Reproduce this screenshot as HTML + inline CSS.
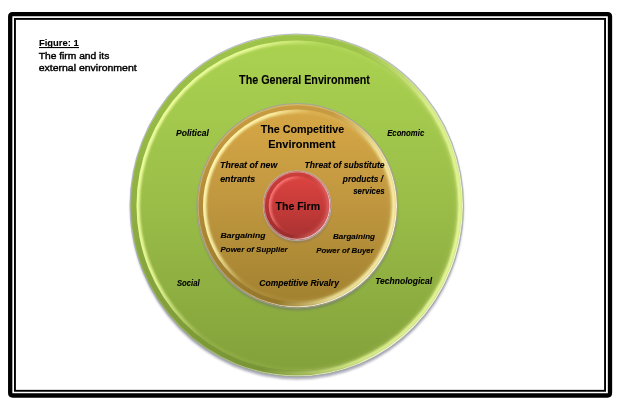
<!DOCTYPE html>
<html><head><meta charset="utf-8"><style>
html,body{margin:0;padding:0;background:#fff;width:623px;height:404px;overflow:hidden}
svg{display:block;will-change:transform}
text{font-family:"Liberation Sans",sans-serif;fill:#000;stroke:#000;stroke-width:0.1px}
text.r{stroke-width:0.4px}
</style></head><body>
<svg width="623" height="404" viewBox="0 0 623 404">
<defs><filter id="blur1" x="-10%" y="-10%" width="120%" height="120%"><feGaussianBlur stdDeviation="1.3"/></filter>
<filter id="blur03" x="-10%" y="-10%" width="120%" height="120%"><feGaussianBlur stdDeviation="0.4"/></filter>
<filter id="blur12" x="-10%" y="-10%" width="120%" height="120%"><feGaussianBlur stdDeviation="1.0"/></filter>
<filter id="blur05" x="-10%" y="-10%" width="120%" height="120%"><feGaussianBlur stdDeviation="0.8"/></filter>
<linearGradient id="fG" x1="0" y1="0" x2="0" y2="1"><stop offset="0" stop-color="#abd351" stop-opacity="1"/><stop offset="0.5" stop-color="#9abd48" stop-opacity="1"/><stop offset="1" stop-color="#82a03a" stop-opacity="1"/></linearGradient>
<linearGradient id="hG" x1="0" y1="0.3" x2="0.6" y2="0.55"><stop offset="0" stop-color="#f0ffa0" stop-opacity="1"/><stop offset="0.35" stop-color="#f0ffa0" stop-opacity="0.85"/><stop offset="0.65" stop-color="#f0ffa0" stop-opacity="0.1"/><stop offset="1" stop-color="#f0ffa0" stop-opacity="0.05"/></linearGradient>
<linearGradient id="eG" x1="0" y1="0.3" x2="1" y2="0.6"><stop offset="0" stop-color="#f0ffa0" stop-opacity="0"/><stop offset="0.55" stop-color="#f0ffa0" stop-opacity="0.0"/><stop offset="0.8" stop-color="#f0ffa0" stop-opacity="0.85"/><stop offset="1" stop-color="#f0ffa0" stop-opacity="1"/></linearGradient>
<linearGradient id="rG" x1="0.1" y1="0.2" x2="0.9" y2="0.8"><stop offset="0" stop-color="#ffffff" stop-opacity="0.0"/><stop offset="0.5" stop-color="#ffffff" stop-opacity="0.3"/><stop offset="1" stop-color="#ffffff" stop-opacity="1"/></linearGradient>
<clipPath id="cG"><ellipse cx="296.75" cy="205.50" rx="166.25" ry="171.00"/></clipPath>
<clipPath id="iG"><ellipse cx="296.75" cy="205.50" rx="160.25" ry="165.00"/></clipPath>
<linearGradient id="fO" x1="0" y1="0" x2="0" y2="1"><stop offset="0" stop-color="#d8a846" stop-opacity="1"/><stop offset="0.5" stop-color="#bf963f" stop-opacity="1"/><stop offset="1" stop-color="#a0802e" stop-opacity="1"/></linearGradient>
<linearGradient id="hO" x1="0" y1="0.3" x2="0.6" y2="0.55"><stop offset="0" stop-color="#fff8b0" stop-opacity="1"/><stop offset="0.35" stop-color="#fff8b0" stop-opacity="0.85"/><stop offset="0.65" stop-color="#fff8b0" stop-opacity="0.1"/><stop offset="1" stop-color="#fff8b0" stop-opacity="0.05"/></linearGradient>
<linearGradient id="eO" x1="0" y1="0.3" x2="1" y2="0.6"><stop offset="0" stop-color="#fff8b0" stop-opacity="0"/><stop offset="0.55" stop-color="#fff8b0" stop-opacity="0.0"/><stop offset="0.8" stop-color="#fff8b0" stop-opacity="0.85"/><stop offset="1" stop-color="#fff8b0" stop-opacity="1"/></linearGradient>
<linearGradient id="rO" x1="0.1" y1="0.2" x2="0.9" y2="0.8"><stop offset="0" stop-color="#ffffff" stop-opacity="0.3"/><stop offset="0.5" stop-color="#ffffff" stop-opacity="0.3"/><stop offset="1" stop-color="#ffffff" stop-opacity="1"/></linearGradient>
<clipPath id="cO"><ellipse cx="297.25" cy="205.75" rx="99.75" ry="101.75"/></clipPath>
<clipPath id="iO"><ellipse cx="297.25" cy="205.75" rx="94.25" ry="96.25"/></clipPath>
<linearGradient id="fR" x1="0" y1="0" x2="0" y2="1"><stop offset="0" stop-color="#de4541" stop-opacity="1"/><stop offset="0.5" stop-color="#c63b39" stop-opacity="1"/><stop offset="1" stop-color="#a63131" stop-opacity="1"/></linearGradient>
<linearGradient id="hR" x1="0" y1="0.3" x2="0.6" y2="0.55"><stop offset="0" stop-color="#ff8080" stop-opacity="1"/><stop offset="0.35" stop-color="#ff8080" stop-opacity="0.85"/><stop offset="0.65" stop-color="#ff8080" stop-opacity="0.1"/><stop offset="1" stop-color="#ff8080" stop-opacity="0.05"/></linearGradient>
<linearGradient id="eR" x1="0" y1="0.3" x2="1" y2="0.6"><stop offset="0" stop-color="#ff8080" stop-opacity="0"/><stop offset="0.55" stop-color="#ff8080" stop-opacity="0.0"/><stop offset="0.8" stop-color="#ff8080" stop-opacity="0.85"/><stop offset="1" stop-color="#ff8080" stop-opacity="1"/></linearGradient>
<linearGradient id="rR" x1="0.1" y1="0.2" x2="0.9" y2="0.8"><stop offset="0" stop-color="#ffffff" stop-opacity="0.5"/><stop offset="0.5" stop-color="#ffffff" stop-opacity="0.5"/><stop offset="1" stop-color="#ffffff" stop-opacity="1"/></linearGradient>
<clipPath id="cR"><ellipse cx="297.10" cy="205.65" rx="33.40" ry="34.35"/></clipPath>
<clipPath id="iR"><ellipse cx="297.10" cy="205.65" rx="28.40" ry="29.35"/></clipPath></defs>
<path d="M 10.2 16.6 Q 10.2 14.1 12.7 14.1 L 607.5 14.1 Q 610 14.1 610 16.6 L 610 393 Q 610 395.5 607.5 395.5 L 12.7 395.5 Q 10.2 395.5 10.2 393 Z" fill="none" stroke="#000" stroke-width="4.3"/>
<rect x="14.95" y="18.9" width="590.1" height="371.9" fill="none" stroke="#000" stroke-width="1.9"/>
<ellipse cx="297.05" cy="207.70" rx="166.65" ry="171.80" fill="#606078" opacity="0.5" filter="url(#blur1)"/>
<ellipse cx="296.75" cy="205.50" rx="166.65" ry="171.40" fill="none" stroke="#a4a4bc" stroke-width="1.3" opacity="0.75" filter="url(#blur03)"/>
<ellipse cx="296.75" cy="205.50" rx="166.25" ry="171.00" fill="url(#fG)"/>
<g clip-path="url(#cG)">
<ellipse cx="296.75" cy="205.50" rx="163.25" ry="168.00" fill="none" stroke="#000" stroke-opacity="0.07" stroke-width="6"/>
<g clip-path="url(#iG)">
<ellipse cx="296.75" cy="205.50" rx="160.25" ry="165.00" fill="none" stroke="url(#hG)" stroke-width="6.4" opacity="1" filter="url(#blur12)"/>
</g>
<ellipse cx="296.75" cy="205.50" rx="163.25" ry="168.00" fill="none" stroke="url(#eG)" stroke-width="5" opacity="0.9" filter="url(#blur05)"/>
<ellipse cx="296.75" cy="205.50" rx="165.65" ry="170.40" fill="none" stroke="url(#rG)" stroke-width="1.2" opacity="0.8"/>
</g>
<ellipse cx="297.55" cy="207.95" rx="100.15" ry="102.55" fill="#606078" opacity="0.4" filter="url(#blur1)"/>
<ellipse cx="297.25" cy="205.75" rx="100.15" ry="102.15" fill="none" stroke="#a0a0a8" stroke-width="1.3" opacity="0.8" filter="url(#blur03)"/>
<ellipse cx="297.25" cy="205.75" rx="99.75" ry="101.75" fill="url(#fO)"/>
<g clip-path="url(#cO)">
<ellipse cx="297.25" cy="205.75" rx="97.00" ry="99.00" fill="none" stroke="#000" stroke-opacity="0.07" stroke-width="5.5"/>
<g clip-path="url(#iO)">
<ellipse cx="297.25" cy="205.75" rx="94.25" ry="96.25" fill="none" stroke="url(#hO)" stroke-width="6.8" opacity="1" filter="url(#blur12)"/>
</g>
<ellipse cx="297.25" cy="205.75" rx="96.75" ry="98.75" fill="none" stroke="url(#eO)" stroke-width="5" opacity="0.9" filter="url(#blur05)"/>
<ellipse cx="297.25" cy="205.75" rx="99.15" ry="101.15" fill="none" stroke="url(#rO)" stroke-width="1.2" opacity="0.9"/>
</g>
<ellipse cx="297.40" cy="207.85" rx="33.80" ry="35.15" fill="#606078" opacity="0.35" filter="url(#blur1)"/>
<ellipse cx="297.10" cy="205.65" rx="33.80" ry="34.75" fill="none" stroke="#b8b0b0" stroke-width="1.3" opacity="0.9" filter="url(#blur03)"/>
<ellipse cx="297.10" cy="205.65" rx="33.40" ry="34.35" fill="url(#fR)"/>
<g clip-path="url(#cR)">
<ellipse cx="297.10" cy="205.65" rx="30.90" ry="31.85" fill="none" stroke="#000" stroke-opacity="0.08" stroke-width="5"/>
<g clip-path="url(#iR)">
<ellipse cx="297.10" cy="205.65" rx="28.40" ry="29.35" fill="none" stroke="url(#hR)" stroke-width="5.0" opacity="0.85" filter="url(#blur12)"/>
</g>
<ellipse cx="297.10" cy="205.65" rx="30.90" ry="31.85" fill="none" stroke="url(#eR)" stroke-width="4" opacity="0.5" filter="url(#blur05)"/>
<ellipse cx="297.10" cy="205.65" rx="32.80" ry="33.75" fill="none" stroke="url(#rR)" stroke-width="1.2" opacity="0.7"/>
</g>
<g>
<text x="38.93" y="45.80" font-size="9.06" font-weight="bold" font-style="normal" textLength="39.78" lengthAdjust="spacingAndGlyphs">Figure: 1</text>
<text class="r" x="38.73" y="58.90" font-size="9.35" font-weight="normal" font-style="normal" textLength="70.60" lengthAdjust="spacingAndGlyphs">The firm and its</text>
<text class="r" x="38.69" y="71.00" font-size="9.35" font-weight="normal" font-style="normal" textLength="97.95" lengthAdjust="spacingAndGlyphs">external environment</text>
<text x="239.10" y="84.30" font-size="12.04" font-weight="bold" font-style="normal" textLength="130.74" lengthAdjust="spacingAndGlyphs">The General Environment</text>
<text x="260.70" y="132.80" font-size="11.47" font-weight="bold" font-style="normal" textLength="83.44" lengthAdjust="spacingAndGlyphs">The Competitive</text>
<text x="268.23" y="147.70" font-size="11.47" font-weight="bold" font-style="normal" textLength="67.22" lengthAdjust="spacingAndGlyphs">Environment</text>
<text x="220.12" y="167.80" font-size="8.21" font-weight="bold" font-style="italic" textLength="57.19" lengthAdjust="spacingAndGlyphs">Threat of new</text>
<text x="220.18" y="181.70" font-size="8.21" font-weight="bold" font-style="italic" textLength="34.98" lengthAdjust="spacingAndGlyphs">entrants</text>
<text x="304.63" y="167.50" font-size="8.21" font-weight="bold" font-style="italic" textLength="79.95" lengthAdjust="spacingAndGlyphs">Threat of substitute</text>
<text x="342.85" y="181.70" font-size="8.21" font-weight="bold" font-style="italic" textLength="40.29" lengthAdjust="spacingAndGlyphs">products /</text>
<text x="353.21" y="194.30" font-size="8.21" font-weight="bold" font-style="italic" textLength="31.49" lengthAdjust="spacingAndGlyphs">services</text>
<text x="220.57" y="238.00" font-size="7.79" font-weight="bold" font-style="italic" textLength="44.95" lengthAdjust="spacingAndGlyphs">Bargaining</text>
<text x="220.60" y="252.30" font-size="7.79" font-weight="bold" font-style="italic" textLength="67.11" lengthAdjust="spacingAndGlyphs">Power of Supplier</text>
<text x="333.04" y="238.50" font-size="7.79" font-weight="bold" font-style="italic" textLength="41.97" lengthAdjust="spacingAndGlyphs">Bargaining</text>
<text x="316.20" y="252.60" font-size="7.79" font-weight="bold" font-style="italic" textLength="57.57" lengthAdjust="spacingAndGlyphs">Power of Buyer</text>
<text x="259.28" y="285.70" font-size="8.21" font-weight="bold" font-style="italic" textLength="79.61" lengthAdjust="spacingAndGlyphs">Competitive Rivalry</text>
<text x="176.05" y="135.60" font-size="8.50" font-weight="bold" font-style="italic" textLength="32.70" lengthAdjust="spacingAndGlyphs">Political</text>
<text x="387.16" y="135.70" font-size="8.21" font-weight="bold" font-style="italic" textLength="37.03" lengthAdjust="spacingAndGlyphs">Economic</text>
<text x="177.00" y="285.60" font-size="8.21" font-weight="bold" font-style="italic" textLength="22.58" lengthAdjust="spacingAndGlyphs">Social</text>
<text x="375.20" y="284.00" font-size="8.50" font-weight="bold" font-style="italic" textLength="56.99" lengthAdjust="spacingAndGlyphs">Technological</text>
<text x="275.50" y="209.60" font-size="11.33" font-weight="bold" font-style="normal" textLength="44.53" lengthAdjust="spacingAndGlyphs">The Firm</text>
<rect x="39" y="47" width="40" height="1.1" fill="#000"/>
</g>
</svg>
</body></html>
